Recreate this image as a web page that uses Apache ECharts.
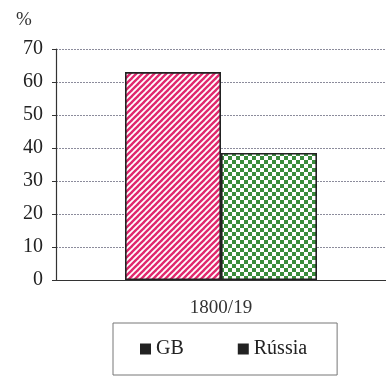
<!DOCTYPE html>
<html><head><meta charset="utf-8">
<script src="https://cdn.jsdelivr.net/npm/echarts@6/dist/echarts.min.js"></script>
<style>html,body{margin:0;padding:0;background:#fff}#c{width:386px;height:376px}</style>
</head><body><div id="c"></div>
<script>
var categories = ['1800/19'];
var seriesNames = ['GB', 'Rússia'];
var gbValues = [63];
var russiaValues = [38.5];
var yTicks = [0, 10, 20, 30, 40, 50, 60, 70];

function stripePattern() {
  var c = document.createElement('canvas'); c.width = 6; c.height = 6;
  var g = c.getContext('2d');
  g.fillStyle = '#fff'; g.fillRect(0, 0, 6, 6);
  g.strokeStyle = '#e0286e'; g.lineWidth = 2.4;
  for (var k = -1; k <= 1; k++) {
    g.beginPath(); g.moveTo(-1 + k * 6, 7); g.lineTo(7 + k * 6, -1); g.stroke();
  }
  return c;
}
function checkPattern() {
  var c = document.createElement('canvas'); c.width = 8; c.height = 8;
  var g = c.getContext('2d');
  g.fillStyle = '#fff'; g.fillRect(0, 0, 8, 8);
  g.fillStyle = '#3a8c3c';
  g.fillRect(0, 0, 4, 4); g.fillRect(4, 4, 4, 4);
  return c;
}

var font = 'Liberation Serif';
var chart = echarts.init(document.getElementById('c'), null, {renderer: 'canvas'});
chart.setOption({
  animation: false,
  backgroundColor: '#fff',
  title: {text: '%', left: 11, top: 6, textStyle: {fontFamily: font, fontSize: 19, fontWeight: 'normal', color: '#333'}},
  grid: {left: 56, top: 49, width: 335, height: 231},
  legend: {
    left: 113, top: 323,
    padding: [16, 30, 16, 27],
    borderColor: '#777', borderWidth: 1,
    itemWidth: 11, itemHeight: 11, itemGap: 54,
    textStyle: {fontFamily: font, fontSize: 20, color: '#222'},
    data: [
      {name: seriesNames[0], icon: 'rect', itemStyle: {color: '#222', borderWidth: 0}},
      {name: seriesNames[1], icon: 'rect', itemStyle: {color: '#222', borderWidth: 0}}
    ]
  },
  xAxis: {
    type: 'category', data: categories,
    axisLine: {lineStyle: {color: '#333', width: 1.2}},
    axisTick: {show: false},
    axisLabel: {fontFamily: font, fontSize: 19, color: '#333', margin: 19},
    splitLine: {show: false}
  },
  yAxis: {
    type: 'value', min: 0, max: 70, interval: 10,
    axisLine: {show: true, lineStyle: {color: '#333', width: 1.2}},
    axisTick: {show: true, length: 4, lineStyle: {color: '#333'}},
    axisLabel: {fontFamily: font, fontSize: 20, color: '#222', margin: 13,
      formatter: function (v) { return yTicks.indexOf(v) >= 0 ? String(v) : ''; }},
    splitLine: {show: true, lineStyle: {color: '#8c8c9c', width: 1, type: [2, 1]}}
  },
  series: [
    {name: seriesNames[0], type: 'bar', data: gbValues, barWidth: 96, barGap: '0%',
     itemStyle: {color: {image: stripePattern(), repeat: 'repeat'}, borderColor: '#222', borderWidth: 1.6}},
    {name: seriesNames[1], type: 'bar', data: russiaValues, barWidth: 96, barGap: '0%',
     itemStyle: {color: {image: checkPattern(), repeat: 'repeat'}, borderColor: '#222', borderWidth: 1.6}}
  ]
});
</script></body></html>
